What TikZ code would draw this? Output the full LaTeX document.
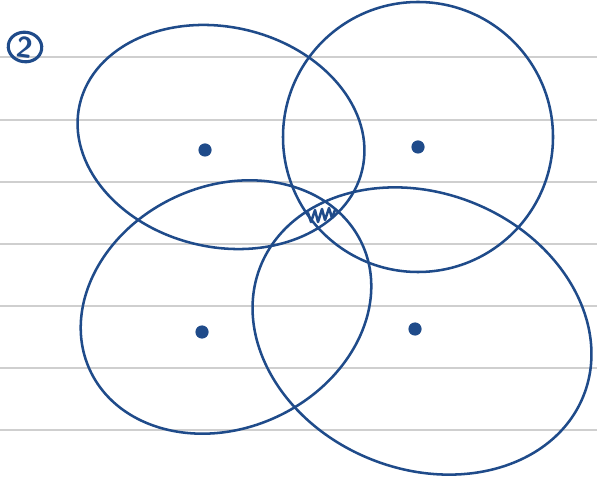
\documentclass[tikz,border=0pt]{standalone}
\usepackage{tikz}
\usetikzlibrary{positioning, shapes.geometric}
\definecolor{encre}{HTML}{1F4B8A}
\definecolor{ligne}{HTML}{CFCFCF}

\begin{document}
\begin{tikzpicture}[x=0.025cm, y=-0.025cm,
    trait/.style={encre, line width=1.8pt},
    point/.style={circle, fill=encre, inner sep=0pt, minimum size=0.33cm}]
    % Feuille
    \fill[white] (0,0) rectangle (597,484);
    \useasboundingbox (0,0) rectangle (597,484);
    \foreach \y in {57,120,182,244,306,368,430}
      \draw[ligne, line width=1.1pt] (0,\y) -- (597,\y);

    % Numero
    \node[trait, line width=2.2pt, draw, ellipse, inner sep=0pt, text=encre,
      font=\sffamily\bfseries\huge, minimum width=0.84cm, minimum height=0.66cm,
      rotate=-8] (num) at (25,47) {2};

    % Ellipses
    \draw[trait, rotate around={-13:(221,137)}] (221,137) ellipse [x radius=145, y radius=110];
    \draw[trait] (418,137) ellipse [x radius=135, y radius=135];
    \draw[trait, rotate around={25:(226,307)}] (226,307) ellipse [x radius=150, y radius=121];
    \draw[trait, rotate around={-22:(422,331)}] (422,331) ellipse [x radius=174, y radius=138];

    % Centres
    \node[point] (a) at (205,150) {};
    \node[point] (b) at (418,147) {};
    \node[point] (c) at (202,332) {};
    \node[point] (d) at (415,329) {};

    % Zone commune
    \draw[encre, line width=1.8pt, line join=round, line cap=round]
      (308,213) -- (311,222) -- (315,210) -- (318,222) -- (322,209)
      -- (325,220) -- (329,208) -- (332,218) -- (335,210);
  \end{tikzpicture}
\end{document}
